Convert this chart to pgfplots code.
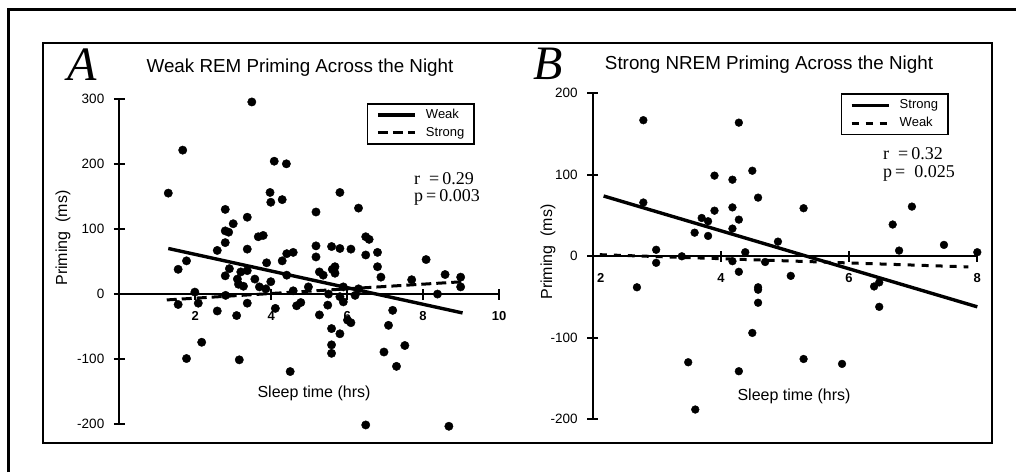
\documentclass[border=0pt]{standalone}
\usepackage{fontspec}
\setmainfont{Liberation Sans}
\newfontfamily\serif{Liberation Serif}
\usepackage{pgfplots}
\pgfplotsset{compat=1.18}

\pgfplotsset{
  panel/.style={
    scale only axis, clip=false,
    axis x line*=middle, axis y line*=left,
    hide obscured x ticks=false, hide obscured y ticks=false,
    axis line style={line width=2.2pt, black},
    tick style={line width=1.8pt, black},
    tick align=center, major tick length=11pt,
    xticklabel style={font=\bfseries\fontsize{13}{13}\selectfont, yshift=-8pt},
    yticklabel style={font=\fontsize{13.5}{14}\selectfont, xshift=-6pt},
    legend cell align=left,
    legend style={draw=black, line width=1.6pt, fill=white,
      font=\fontsize{13}{13}\selectfont,
      inner xsep=8.5pt, inner ysep=3.5pt, row sep=2.5pt, column sep=8pt,
      nodes={inner sep=1.5pt, text height=9.5pt, text depth=3pt}},
    legend image code/.code={\draw[#1] (0pt,0pt) -- (37pt,0pt);},
  },
  dots/.style={only marks, mark=*, black, forget plot},
}

\begin{document}
\begin{tikzpicture}
\useasboundingbox (0pt,0pt) rectangle (1016pt,472pt);
\draw[line width=3pt] (8pt,0pt) -- (8pt,462pt) -- (1016pt,462pt);
\draw[line width=1.8pt] (43pt,29pt) rectangle (992pt,429pt);

% Panel A: weak REM priming
\begin{axis}[panel,
  at={(119.3pt,47.7pt)}, anchor=south west,
  width=379.7pt, height=325.6pt,
  xmin=0, xmax=10, ymin=-200, ymax=300,
  xtick={2,4,6,8,10}, xticklabels={2,4,6,8,10},
  ytick={-200,-100,0,100,200,300}, yticklabels={-200,-100,0,100,200,300},
  legend style={at={(0.937,0.987)}, anchor=north east},
]
\addplot[dots, mark size=4.2pt] coordinates {
(1.29,155)(1.67,221)(1.55,38)(1.77,51)(1.55,-16)(1.77,-99)(1.99,3)(2.08,-14)
(2.17,-74)(2.58,-26)(2.58,67)(2.79,130)(2.79,97)(2.88,95)(3.00,108)(2.79,79)
(2.90,39)(2.79,28)(2.80,-2)(3.09,-33)(3.11,23)(3.14,15)(3.20,34)(3.27,12)
(3.37,118)(3.37,69)(3.37,36)(3.37,-14)(3.16,-101)(3.49,295)(3.57,23)(3.66,88)
(3.79,90)(3.69,11)(3.86,8)(3.88,48)(3.97,156)(3.99,141)(3.99,19)(4.08,204)
(4.11,-22)(4.29,145)(4.29,51)(4.40,200)(4.41,62)(4.58,64)(4.41,29)(4.58,5)
(4.50,-119)(4.67,-18)(4.78,-13)(4.98,11)(5.18,126)(5.18,74)(5.18,57)(5.27,34)
(5.37,29)(5.27,-32)(5.49,-17)(5.51,0)(5.59,73)(5.81,70)(5.61,38)(5.68,42)
(5.68,32)(5.59,-53)(5.59,-78)(5.59,-91)(5.81,156)(5.81,-61)(5.81,-4)(5.90,11)
(5.90,-12)(6.01,-40)(6.10,-44)(6.10,69)(6.21,-2)(6.30,8)(6.30,132)(6.49,60)
(6.49,88)(6.58,84)(6.49,-201)(6.80,64)(6.80,42)(6.89,26)(6.97,-89)(7.09,-48)
(7.20,-25)(7.30,-111)(7.52,-79)(7.70,22)(8.08,53)(8.38,0)(8.58,30)(8.68,-203)
(8.99,26)(8.99,11)
};
\addplot[black, line width=3.4pt] coordinates {(1.29,70) (9.04,-29)};
\addlegendentry{Weak}
\addplot[black, line width=3pt, dash pattern=on 10pt off 5pt] coordinates {(1.25,-9) (9.06,19)};
\addlegendentry{Strong}
\end{axis}

% Panel B: strong NREM priming
\begin{axis}[panel,
  at={(592.7pt,52.7pt)}, anchor=south west,
  width=384.6pt, height=326pt,
  xmin=2, xmax=8, ymin=-200, ymax=200,
  xtick={2,4,6,8}, xticklabels={\hspace{16pt}2,4,6,8},
  ytick={-200,-100,0,100,200}, yticklabels={-200,-100,0,100,200},
  legend style={at={(0.926,1.0)}, anchor=north east},
]
\addplot[dots, mark size=3.9pt] coordinates {
(2.79,167)(2.79,66)(2.69,-38)(2.99,8)(2.99,-8)(3.39,0)(3.49,-130)(3.60,-188)
(3.59,29)(3.70,47)(3.80,43)(3.80,25)(3.90,99)(3.90,56)(4.18,94)(4.18,60)
(4.18,34)(4.18,-6)(4.28,164)(4.28,45)(4.28,-19)(4.28,-141)(4.38,5)(4.49,105)
(4.49,-94)(4.58,72)(4.58,-38)(4.58,-41)(4.58,-57)(4.69,-7)(4.89,18)(5.09,-24)
(5.29,59)(5.29,-126)(5.89,-132)(6.39,-37)(6.47,-32)(6.47,-62)(6.68,39)(6.78,7)
(6.98,61)(7.48,14)(8.00,5)
};
\addplot[black, line width=3.4pt] coordinates {(2.17,74) (8.0,-62)};
\addlegendentry{Strong}
\addplot[black, line width=3pt, dash pattern=on 7pt off 7pt] coordinates {(2.11,2) (7.86,-13)};
\addlegendentry{Weak}
\end{axis}

% panel letters, titles and labels
\node[font=\serif\itshape\fontsize{48}{48}\selectfont, inner sep=0pt] at (82pt,407pt) {A};
\node[font=\fontsize{18.8}{20}\selectfont, inner sep=0pt] at (300pt,404pt) {Weak REM Priming Across the Night};
\node[font=\fontsize{16}{17}\selectfont, inner sep=0pt, rotate=90] at (63pt,234pt) {Priming\ \ (ms)};
\node[font=\fontsize{16}{17}\selectfont, inner sep=0pt] at (314pt,79pt) {Sleep time (hrs)};
\node[font=\serif\fontsize{18}{19}\selectfont, inner sep=0pt, anchor=west] at (414pt,293pt) {r\ \ =\,0.29};
\node[font=\serif\fontsize{18}{19}\selectfont, inner sep=0pt, anchor=west] at (414pt,275pt) {p\,=\,0.003};

\node[font=\serif\itshape\fontsize{48}{48}\selectfont, inner sep=0pt] at (548pt,408pt) {B};
\node[font=\fontsize{18.8}{20}\selectfont, inner sep=0pt] at (769pt,407pt) {Strong NREM Priming Across the Night};
\node[font=\fontsize{16}{17}\selectfont, inner sep=0pt, rotate=90] at (548pt,220pt) {Priming\ \ (ms)};
\node[font=\fontsize{16}{17}\selectfont, inner sep=0pt] at (794pt,76pt) {Sleep time (hrs)};
\node[font=\serif\fontsize{18}{19}\selectfont, inner sep=0pt, anchor=west] at (883pt,318pt) {r\ \ =\,0.32};
\node[font=\serif\fontsize{18}{19}\selectfont, inner sep=0pt, anchor=west] at (883pt,299pt) {p\,=\ \ 0.025};
\end{tikzpicture}
\end{document}
